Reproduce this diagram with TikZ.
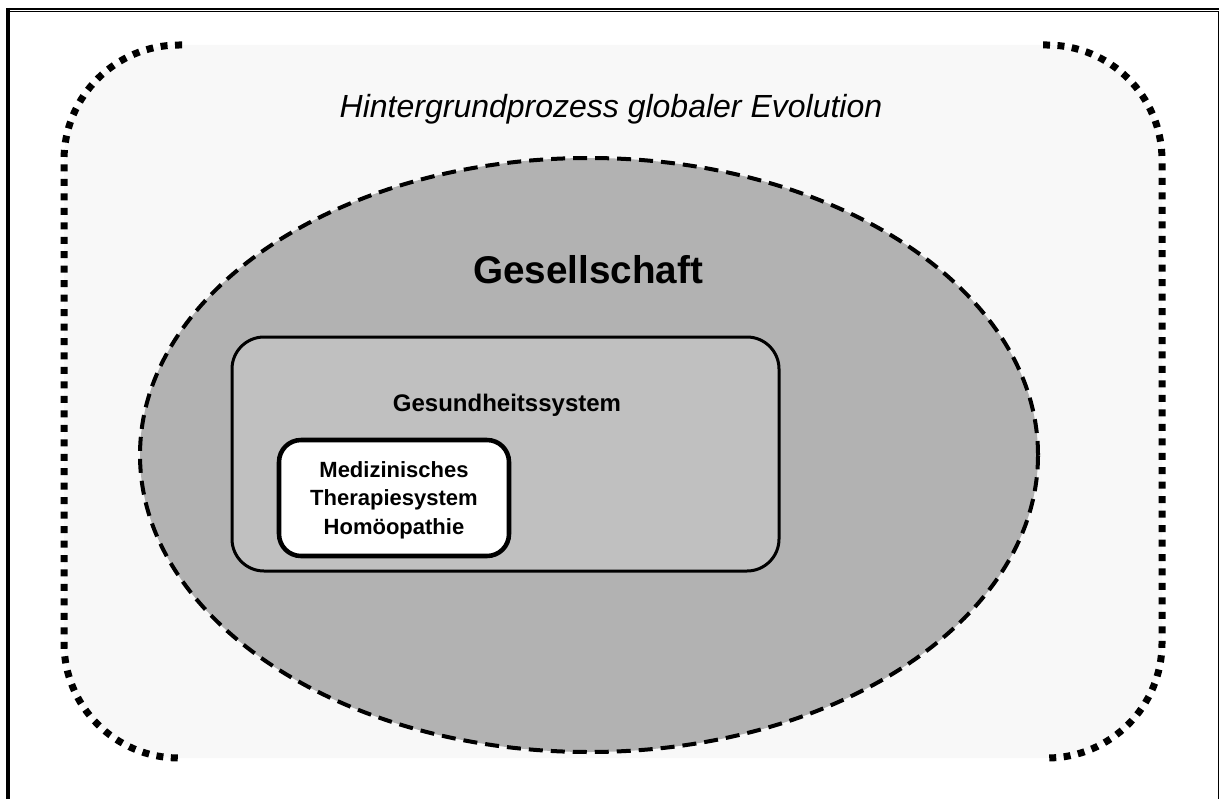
\documentclass[tikz,border=0pt]{standalone}
\usepackage{fontspec}
\setmainfont{Liberation Sans}
\usetikzlibrary{shapes.geometric}
\definecolor{haze}{RGB}{248,248,248}
\definecolor{societygray}{RGB}{178,178,178}
\definecolor{healthgray}{RGB}{192,192,192}

\begin{document}
\begin{tikzpicture}[x=0.75pt,y=-0.75pt,
  dotline/.style={line width=5.25pt, dash pattern=on 5.25pt off 5.6pt},
  dashline/.style={line width=3pt, dash pattern=on 10.5pt off 6pt},
  societyshape/.style={ellipse, draw, dashline, fill=societygray, inner sep=0pt,
    minimum width=673.5pt, minimum height=445.5pt},
  healthshape/.style={draw, line width=2.25pt, rounded corners=24pt, fill=healthgray,
    inner sep=0pt, minimum width=410.25pt, minimum height=175.5pt},
  therapyshape/.style={draw, line width=3.4pt, rounded corners=16.5pt, fill=white,
    inner sep=0pt, minimum width=172.5pt, minimum height=87pt},
  titletext/.style={anchor=base, inner sep=0pt, font=\fontsize{24}{28}\selectfont\itshape},
  bigtext/.style={anchor=base, inner sep=0pt, font=\fontsize{29}{34}\selectfont\bfseries},
  midtext/.style={anchor=base, inner sep=0pt, font=\fontsize{18}{22}\selectfont\bfseries},
  smalltext/.style={inner sep=0pt, align=center, font=\fontsize{16.5}{21.3}\selectfont\bfseries}]
\useasboundingbox (0,0) rectangle (1219,799);

% page frame: double rule on top, heavy left rule, thin right rule
\draw[line width=1.9pt] (6,9.2) -- (1219,9.2);
\draw[line width=0.9pt] (9,11.7) -- (1218.3,11.7);
\draw[line width=3pt] (8,8) -- (8,799);
\draw[line width=0.9pt] (1218.3,11.2) -- (1218.3,799);

% background of the global evolution field
\fill[haze, rounded corners=86.25pt] (64,45) rectangle (1162,758);
\draw[dotline, rounded corners=86.25pt] (182,45) -- (64,45) -- (64,758) -- (182,758);
\draw[dotline, rounded corners=86.25pt] (1043,45) -- (1162,45) -- (1162,758) -- (1043,758);

% nested systems
\node[societyshape] (society) at (589,455) {};
\node[healthshape] (health) at (505.5,454) {};
\node[therapyshape] (therapy) at (394,498) {};

% labels
\node[titletext] (evolution) at (611,117) {Hintergrundprozess globaler Evolution};
\node[bigtext] (societylabel) at (588,283) {Gesellschaft};
\node[midtext] (healthlabel) at (507,411) {Gesundheitssystem};
\node[smalltext] (therapylabel) at ([yshift=-1.5pt]therapy.center) {Medizinisches\\Therapiesystem\\Homöopathie};
\end{tikzpicture}
\end{document}
